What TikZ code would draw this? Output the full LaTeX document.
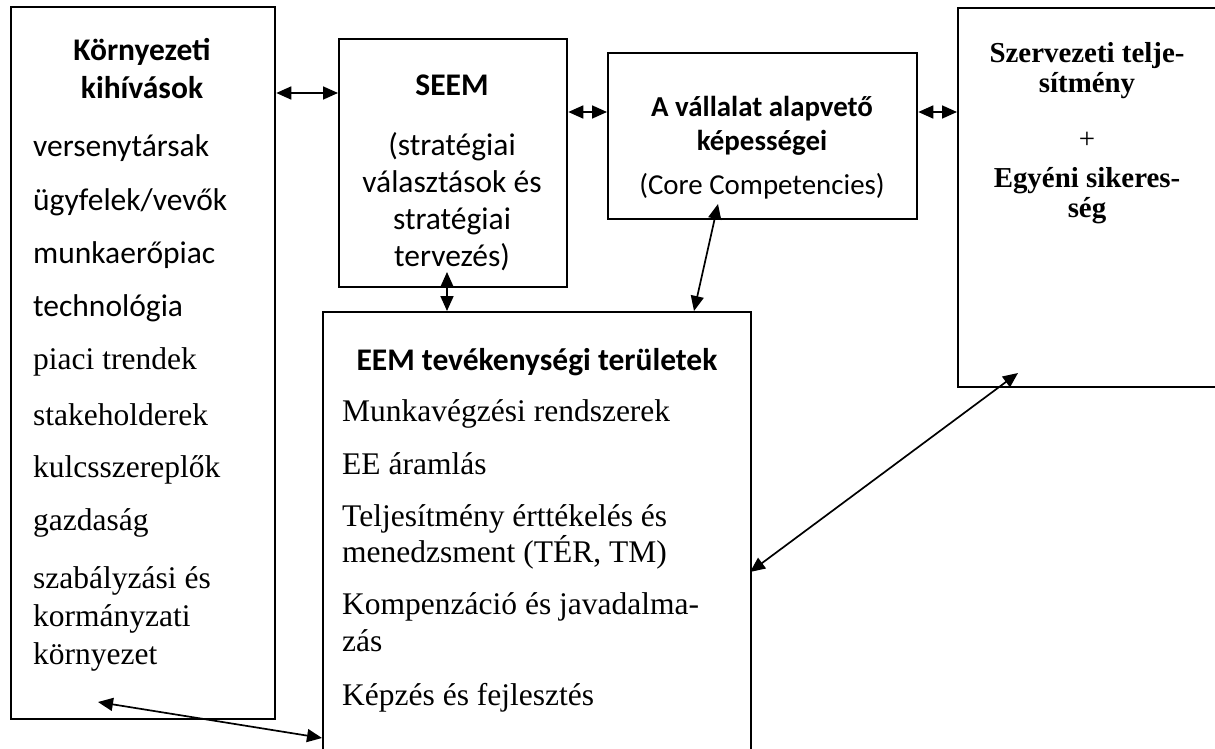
\documentclass[tikz,border=0pt]{standalone}
\usepackage{fontspec}
\setmainfont{Liberation Serif}
\newfontfamily\calfont{Carlito}
\usetikzlibrary{arrows.meta}
\begin{document}
\begin{tikzpicture}[x=1pt,y=-1pt,
  box/.style={draw, line width=2.3pt, inner sep=0pt, anchor=north west},
  dar/.style={line width=1.7pt, {Triangle[length=15pt,width=13pt]}-{Triangle[length=15pt,width=13pt]}},
  calb/.style={font=\calfont\bfseries\fontsize{31.5}{36}\selectfont, inner sep=0pt, anchor=base},
  calr/.style={font=\calfont\fontsize{31.5}{36}\selectfont, inner sep=0pt, anchor=base},
  calbs/.style={font=\calfont\bfseries\fontsize{28.9}{33}\selectfont, inner sep=0pt, anchor=base},
  calrs/.style={font=\calfont\fontsize{28.9}{33}\selectfont, inner sep=0pt, anchor=base},
  calw/.style={font=\calfont\fontsize{31.5}{36}\selectfont, inner sep=0pt, anchor=base west},
  tmw/.style={font=\fontsize{31.5}{36}\selectfont, inner sep=0pt, anchor=base west},
  tmbs/.style={font=\bfseries\fontsize{28.9}{33}\selectfont, inner sep=0pt, anchor=base},
  tmrs/.style={font=\fontsize{28.9}{33}\selectfont, inner sep=0pt, anchor=base}]
\useasboundingbox[fill=white] (0,0) rectangle (1215,749);
% boxes
\node[box, minimum width=264pt, minimum height=712pt] (env) at (10,6) {};
\node[box, minimum width=228pt, minimum height=248pt] (seem) at (338,38) {};
\node[box, minimum width=309pt, minimum height=166pt] (core) at (607,52) {};
\node[box, minimum width=275pt, minimum height=379pt] (perf) at (957,7) {};
\node[box, minimum width=428pt, minimum height=460pt] (eem) at (322,311) {};
% left box text
\node[calb] (e1) at (142,61) {Környezeti};
\node[calb] (e2) at (142,99) {kihívások};
\node[calw] (l1) at (33,157) {versenytársak};
\node[calw] (l2) at (33,210) {ügyfelek/vevők};
\node[calw] (l3) at (33,263) {munkaerőpiac};
\node[calw] (l4) at (33,316) {technológia};
\node[tmw] (l5) at (33,369) {piaci trendek};
\node[tmw] (l6) at (33,425) {stakeholderek};
\node[tmw] (l7) at (33,477) {kulcsszereplők};
\node[tmw] (l8) at (33,530) {gazdaság};
\node[tmw] (l9) at (33,588) {szabályzási és};
\node[tmw] (l10) at (33,626) {kormányzati};
\node[tmw] (l11) at (33,664) {környezet};
% SEEM text
\node[calb] (s1) at (452,96) {SEEM};
\node[calr] (s2) at (452,155) {(stratégiai};
\node[calr] (s3) at (452,192) {választások és};
\node[calr] (s4) at (452,229) {stratégiai};
\node[calr] (s5) at (452,266) {tervezés)};
% core text
\node[calbs] (c1) at (762,117) {A vállalat alapvető};
\node[calbs] (c2) at (762,150) {képességei};
\node[calrs] (c3) at (762,194) {(Core Competencies)};
% right box text
\node[tmbs] (p1) at (1087,63) {Szervezeti telje-};
\node[tmbs] (p2) at (1087,93) {sítmény};
\node[tmrs] (p3) at (1087,148) {+};
\node[tmbs] (p4) at (1087,187) {Egyéni sikeres-};
\node[tmbs] (p5) at (1087,217) {ség};
% EEM text
\node[calb] (m0) at (537,370) {EEM tevékenységi területek};
\node[tmw] (m1) at (342,421) {Munkavégzési rendszerek};
\node[tmw] (m2) at (342,474) {EE áramlás};
\node[tmw] (m3) at (342,526) {Teljesítmény érttékelés és};
\node[tmw] (m4) at (342,562) {menedzsment (TÉR, TM)};
\node[tmw] (m5) at (342,614) {Kompenzáció és javadalma-};
\node[tmw] (m6) at (342,651) {zás};
\node[tmw] (m7) at (342,705) {Képzés és fejlesztés};
% connector end points inside boxes
\coordinate (seemIn) at (447,272);
\coordinate (coreIn) at (718,204);
\coordinate (eemTop) at (694,311);
\coordinate (perfIn) at (1018,373);
\coordinate (eemRight) at (750,572);
\coordinate (envIn) at (98,702);
\coordinate (eemLeft) at (322,738);
% connectors
\draw[dar] (env.east |- 0,93) -- (seem.west |- 0,93);
\draw[dar] (seem.east |- 0,112) -- (core.west |- 0,112);
\draw[dar] (core.east |- 0,112) -- (perf.west |- 0,112);
\draw[dar] (seemIn) -- (eem.north -| seemIn);
\draw[dar] (coreIn) -- (eemTop);
\draw[dar] (perfIn) -- (eemRight);
\draw[dar] (envIn) -- (eemLeft);
\end{tikzpicture}
\end{document}
